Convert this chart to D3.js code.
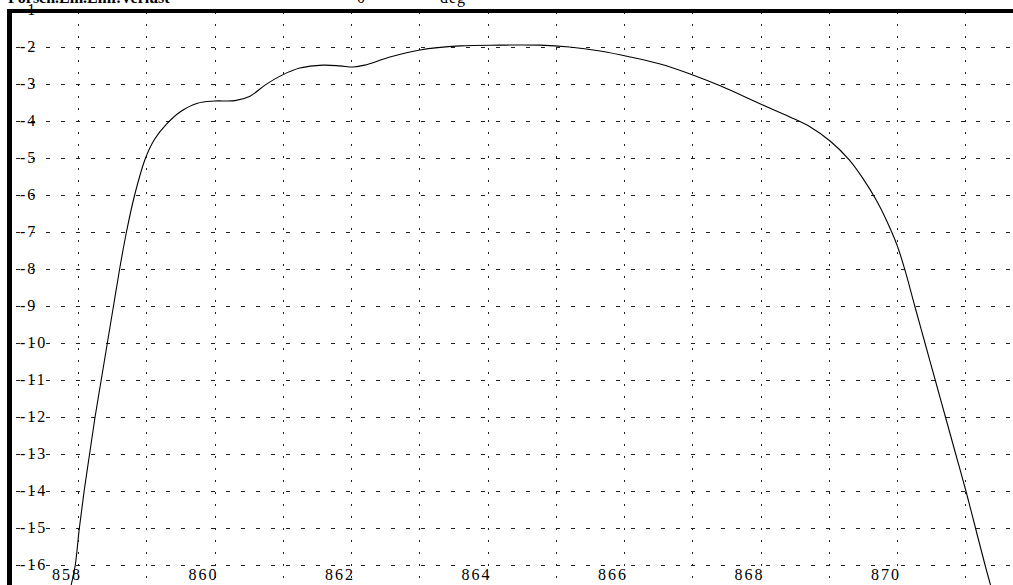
<!DOCTYPE html>
<html><head><meta charset="utf-8">
<script src="https://cdn.jsdelivr.net/npm/d3@7"></script>
<style>html,body{margin:0;padding:0;background:#fff;overflow:hidden}</style>
</head><body>
<svg id="c" width="1013" height="585"></svg>
<script>
const freq = [857.90,857.96,858.02,858.09,858.17,858.25,858.34,858.43,858.52,858.61,858.71,858.83,858.99,859.12,859.30,859.50,859.75,860.00,860.30,860.52,860.74,860.99,861.25,861.59,861.84,862.03,862.20,862.57,863.01,863.60,864.18,864.77,865.20,865.65,866.09,866.53,866.97,867.41,868.00,868.43,868.73,869.02,869.30,869.50,869.70,869.85,870.00,870.12,870.26,870.41,870.56,870.71,870.86,871.01,871.15,871.29,871.37];
const gain = [-16.54,-16.0,-15.0,-14.0,-13.0,-12.0,-11.0,-10.0,-9.0,-8.0,-7.0,-6.0,-5.0,-4.5,-4.08,-3.75,-3.52,-3.46,-3.45,-3.33,-3.03,-2.76,-2.57,-2.49,-2.51,-2.54,-2.49,-2.27,-2.08,-1.97,-1.95,-1.95,-2.0,-2.11,-2.27,-2.46,-2.73,-3.05,-3.54,-3.89,-4.16,-4.54,-5.05,-5.55,-6.15,-6.7,-7.35,-8.05,-9.0,-10.0,-11.0,-12.0,-13.0,-14.0,-15.0,-16.0,-16.54];
const xTicks = [858,859,860,861,862,863,864,865,866,867,868,869,870,871];
const xLabels = [858,860,862,864,866,868,870];
const yTicks = [-1,-2,-3,-4,-5,-6,-7,-8,-9,-10,-11,-12,-13,-14,-15,-16];
const headerTexts = ["Forsch.Ein.Einf.Verlust", "0", "deg"];

(function(){
const svg = d3.select("#c");
const W = 1013, H = 585;
const x = d3.scaleLinear().domain([858, 870]).range([78, 897]);
const y = d3.scaleLinear().domain([-2, -16]).range([47, 565]);
const plotLeft = 12, plotTop = 12;

// header (mostly cut off, as in the original)
svg.append("text").attr("x", 8).attr("y", 3).attr("font-family", "Liberation Serif").attr("font-size", 16).attr("font-weight", "bold").text(headerTexts[0]);
svg.append("text").attr("x", 357).attr("y", 3).attr("font-family", "Liberation Serif").attr("font-size", 16).text(headerTexts[1]);
svg.append("text").attr("x", 440).attr("y", 3).attr("font-family", "Liberation Serif").attr("font-size", 16).attr("letter-spacing", 1).text(headerTexts[2]);

// horizontal dashed gridlines
svg.append("g").selectAll("line").data(yTicks).join("line")
  .attr("x1", plotLeft).attr("x2", W)
  .attr("y1", d => Math.round(y(d)) + 0.5).attr("y2", d => Math.round(y(d)) + 0.5)
  .attr("stroke", "#222").attr("stroke-width", 1)
  .attr("stroke-dasharray", "4,11").attr("stroke-dashoffset", -4);

// vertical dotted gridlines
svg.append("g").selectAll("line").data(xTicks).join("line")
  .attr("x1", d => Math.round(x(d)) + 0.5).attr("x2", d => Math.round(x(d)) + 0.5)
  .attr("y1", plotTop).attr("y2", H)
  .attr("stroke", "#222").attr("stroke-width", 1)
  .attr("stroke-dasharray", "2,10");

// y labels
svg.append("g").selectAll("text").data(yTicks).join("text")
  .attr("x", 20).attr("y", d => y(d) + 5)
  .attr("font-family", "Liberation Serif").attr("font-size", 16)
  .attr("letter-spacing", 2)
  .text(d => "-" + Math.abs(d));

// x labels
svg.append("g").selectAll("text").data(xLabels).join("text")
  .attr("x", d => x(d) + 4).attr("y", 580)
  .attr("text-anchor", "end")
  .attr("font-family", "Liberation Serif").attr("font-size", 16)
  .attr("letter-spacing", 2)
  .text(d => d);

// curve
const line = d3.line().x((d, i) => x(freq[i])).y((d, i) => y(gain[i])).curve(d3.curveCatmullRom.alpha(0.5));
svg.append("path").datum(gain).attr("d", line)
  .attr("fill", "none").attr("stroke", "#000").attr("stroke-width", 1.1);

// frame borders
svg.append("rect").attr("x", 7).attr("y", 9).attr("width", W - 7).attr("height", 4).attr("fill", "#000");
svg.append("rect").attr("x", 7).attr("y", 9).attr("width", 5).attr("height", H - 9).attr("fill", "#000");
})();
</script>
</body></html>
